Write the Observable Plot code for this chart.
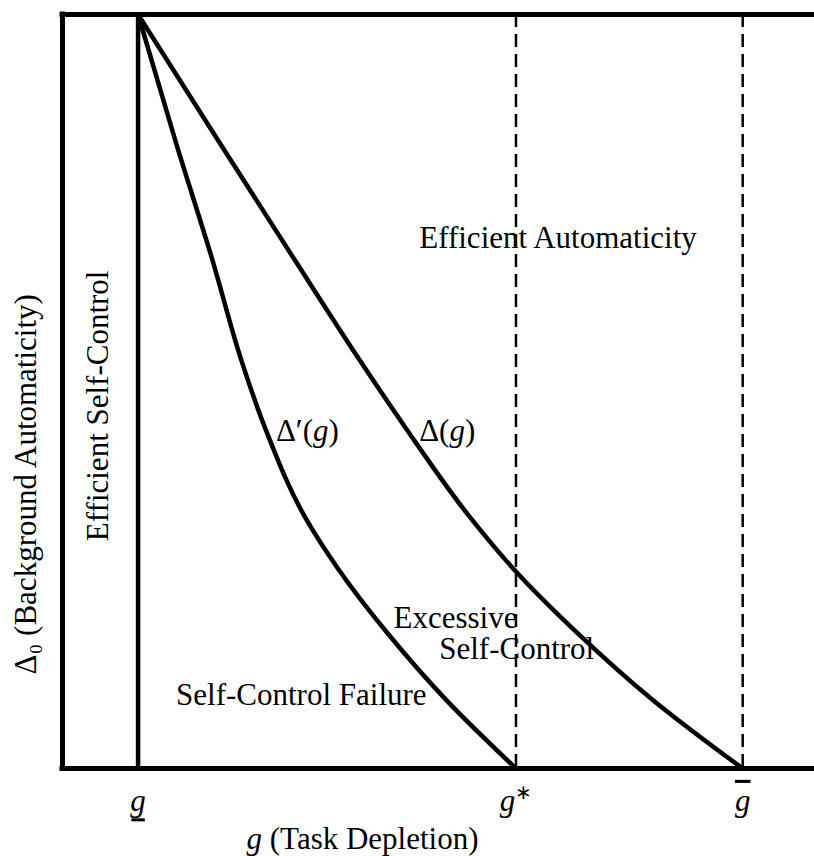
<!DOCTYPE html>
<html><head><meta charset="utf-8">
<script src="https://cdn.jsdelivr.net/npm/d3@7"></script>
<script src="https://cdn.jsdelivr.net/npm/@observablehq/plot@0.6"></script>
<style>body{margin:0;background:#fff} svg{display:block}</style>
</head><body><div id="chart"></div><script>
// thresholds on the g axis
const tickValues = [1, 6, 9];
const tickLabels = ["g\u0332", "g*", "g\u0305"];

// Δ'(g) curve
const deltaPrimeG = [1.0, 1.504, 1.985, 2.368, 2.679, 3.234, 3.632, 4.304, 5.085, 6.0];
const deltaPrimeV = [10, 8.29, 6.74, 5.41, 4.52, 3.29, 2.67, 1.79, 0.90, 0];
// Δ(g) curve
const deltaG = [1.0, 2.085, 3.076, 3.936, 4.538, 5.425, 5.947, 6.821, 7.822, 9.0];
const deltaV = [10, 8.29, 6.74, 5.41, 4.52, 3.29, 2.67, 1.79, 0.90, 0];

// region / curve labels
const labelText = ["Efficient Automaticity", "Δ′(g)", "Δ(g)", "Excessive", "Self-Control", "Self-Control Failure"];
const labelX = [6.556, 3.24, 5.09, 5.20, 6.01, 3.16];
const labelY = [7.04, 4.48, 4.48, 1.99, 1.59, 0.97];

const sideText = ["Efficient Self-Control"];
const sideX = [0.476];
const sideY = [4.81];

const xTitle = "g (Task Depletion)";
const yTitle = "Δ₀ (Background Automaticity)";

const curves = [
  ...deltaPrimeG.map((g, i) => ({g, v: deltaPrimeV[i], s: "Δ′"})),
  ...deltaG.map((g, i) => ({g, v: deltaV[i], s: "Δ"}))
];
const labels = labelText.map((t, i) => ({t, x: labelX[i], y: labelY[i]}));
const sides = sideText.map((t, i) => ({t, x: sideX[i], y: sideY[i]}));
const ticks = tickValues.map((x, i) => ({x, t: tickLabels[i]}));

const FS = 31;
const chart = Plot.plot({
  width: 814, height: 856,
  marginLeft: 62, marginRight: 0, marginTop: 14, marginBottom: 88,
  style: {fontFamily: "'Liberation Serif', serif", fontSize: FS + "px", background: "#fff", color: "#000"},
  x: {domain: [0, 9.95], axis: null},
  y: {domain: [0, 10], axis: null},
  marks: [
    Plot.ruleX(tickValues.slice(0, 1), {stroke: "#000", strokeWidth: 4.5}),
    Plot.ruleX(tickValues.slice(1), {stroke: "#000", strokeWidth: 2.5, strokeDasharray: "13,7"}),
    Plot.line(curves, {x: "g", y: "v", z: "s", stroke: "#000", strokeWidth: 4.5, curve: "monotone-y", strokeLinejoin: "round"}),
    Plot.ruleY([0, 10], {stroke: "#000", strokeWidth: 5, strokeLinecap: "square"}),
    Plot.ruleX([0], {stroke: "#000", strokeWidth: 5, strokeLinecap: "square"}),
    Plot.text(labels, {x: "x", y: "y", text: "t", fontSize: FS, fill: "#000"}),
    Plot.text(sides, {x: "x", y: "y", text: "t", rotate: -90, fontSize: FS, fill: "#000"}),
    Plot.text(ticks, {x: "x", y: () => -0.43, text: "t", fontSize: FS, fill: "#000"}),
    Plot.text([xTitle], {x: () => 3.97, y: () => -0.94, text: d => d, fontSize: FS, fill: "#000"}),
    Plot.text([yTitle], {x: () => -0.476, y: () => 3.77, text: d => d, rotate: -90, fontSize: FS, fill: "#000"})
  ]
});
document.getElementById("chart").appendChild(chart);

// italicize the math variable g, render decorations / superscripts
const underlined = [];
d3.select(chart).selectAll("text").each(function () {
  const s = this.textContent;
  const re = /(?<![A-Za-z])g(?![a-z])[\u0332\u0305*]*/g;
  if (!re.test(s)) return;
  re.lastIndex = 0;
  const el = d3.select(this);
  el.text(null);
  let last = 0, m;
  while ((m = re.exec(s)) !== null) {
    if (m.index > last) el.append("tspan").text(s.slice(last, m.index));
    const tok = m[0];
    const g = el.append("tspan").attr("font-style", "italic").text("g");
    if (tok.includes("\u0332")) underlined.push(this);
    if (tok.includes("\u0305")) g.style("text-decoration", "overline").style("text-decoration-thickness", "2.5px");
    if (tok.includes("*")) {
      el.append("tspan").attr("font-size", "20px").attr("dy", "-12").text("∗");
    }
    last = m.index + tok.length;
  }
  if (last < s.length) el.append("tspan").text(s.slice(last));
});
// underline drawn below the rendered glyph, sized from its own bounding box
for (const t of underlined) {
  const b = t.getBBox();
  const yy = b.y + b.height + 2;
  d3.select(t.parentNode).append("line")
    .attr("transform", t.getAttribute("transform"))
    .attr("x1", b.x + 1).attr("x2", b.x + b.width - 1)
    .attr("y1", yy).attr("y2", yy)
    .attr("stroke", "#000").attr("stroke-width", 3);
}
</script></body></html>
